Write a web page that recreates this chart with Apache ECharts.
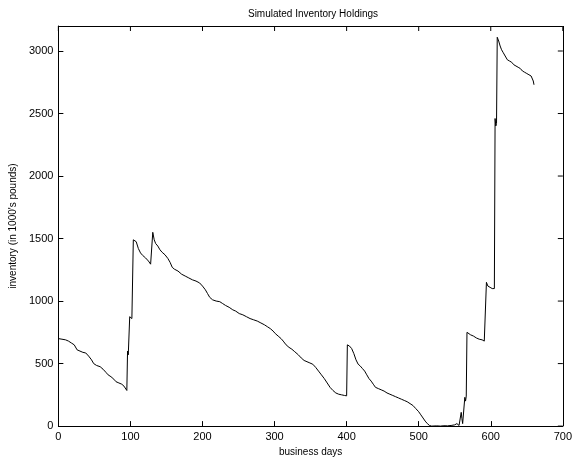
<!DOCTYPE html>
<html>
<head>
<meta charset="utf-8">
<script src="https://cdn.jsdelivr.net/npm/echarts@6/dist/echarts.min.js"></script>
<style>
  html, body { margin: 0; padding: 0; background: #fff; }
  #chart { width: 575px; height: 462px; }
</style>
</head>
<body>
<div id="chart"></div>
<script>
// Business-day index and simulated inventory level (thousands of pounds)
const days = [
  0, 5, 10, 14, 18, 22, 24, 26, 28, 34, 38, 42, 46, 49, 53, 58, 62, 66, 69, 73, 77, 80, 84, 88, 91, 93, 95,
  96, 97, 98, 99, 101, 102, 104, 106, 108, 111, 114, 117, 121, 125, 128, 130,
  131, 133, 135, 138, 141, 144, 148, 152, 155, 158, 161, 166, 171, 176, 181, 186, 191, 196, 200, 204, 207, 210,
  214, 219, 224, 228, 232, 237, 242, 246, 251, 256, 261, 266, 271, 276, 281, 286, 290, 294, 298, 301, 305, 309,
  312, 316, 320, 324, 328, 333, 337, 341, 345, 349, 353, 357, 361, 365, 369, 373, 377, 381, 385, 389, 393, 397, 400,
  401, 404, 407, 410, 413, 416, 419, 422, 425, 428, 431, 434, 437, 440, 444, 448, 452, 456, 460, 464, 468, 472,
  476, 480, 484, 488, 492, 496, 500, 503, 506, 509, 512, 515, 518, 525, 530, 535, 540, 545, 550, 553, 555, 556,
  558, 559, 560, 561, 563, 564, 565, 566, 567, 569, 572, 576, 580, 584, 588, 591, 593,
  594, 596, 599, 602, 605, 606, 607, 608, 609, 611, 613, 615, 617, 620, 623, 626, 629, 632, 635, 638, 641, 644,
  647, 650, 653, 656, 658, 659, 660
];
const inventory = [
  700, 695, 690, 680, 665, 650, 640, 610, 595, 590, 585, 560, 530, 500, 485, 475, 455, 430, 410, 395, 375, 355, 345, 335, 320, 305, 285,
  600, 570, 580, 875, 870, 860, 1490, 1495, 1475, 1420, 1385, 1365, 1345, 1320, 1295, 1280,
  1550, 1490, 1460, 1440, 1410, 1390, 1370, 1340, 1310, 1270, 1255, 1240, 1215, 1200, 1185, 1170, 1160, 1145, 1120, 1090, 1060, 1030,
  1010, 1000, 995, 980, 965, 950, 930, 920, 900, 890, 875, 860, 850, 840, 825, 810, 795, 780, 760, 740, 720, 700,
  680, 650, 630, 615, 595, 570, 545, 525, 515, 505, 495, 470, 440, 410, 380, 345, 310, 285, 265, 255, 250, 245, 242,
  650, 640, 620, 580, 530, 495, 480, 460, 440, 410, 380, 360, 335, 310, 300, 290, 280, 265, 255, 245, 235, 225,
  215, 205, 195, 180, 165, 140, 115, 90, 65, 40, 20, 5, 0, 2, 0, 3, 2, 5, 10, 20, 30, 5,
  15, 110, 60, 20, 20, 230, 200, 240, 750, 745, 730, 720, 705, 695, 690, 680, 680,
  1150, 1120, 1110, 1100, 1100, 2460, 2400, 2420, 3110, 3080, 3040, 3010, 2990, 2960, 2930, 2920, 2910, 2890, 2880, 2870, 2860, 2840,
  2830, 2820, 2810, 2800, 2790, 2760, 2730
];
const xTicks = [0, 100, 200, 300, 400, 500, 600, 700];
const yTicks = [0, 500, 1000, 1500, 2000, 2500, 3000];
const yTop = 3200;
const xEnd = xTicks[xTicks.length - 1];

const font = '"Liberation Sans", Arial, Helvetica, sans-serif';
const points = days.map((d, i) => [d, inventory[i]]);

const lineStyle = { color: '#000', width: 1 };
const tickStyle = { show: true, inside: true, length: 5, lineStyle: { color: '#000', width: 1 } };
const xLabel = v => (xTicks.indexOf(v) >= 0 ? String(v) : '');
const yLabel = v => (yTicks.indexOf(v) >= 0 ? String(v) : '');

// inward tick marks on the top and right edges of the box
const TICK = 5;
function topTick(params, api) {
  const p = api.coord([api.value(0), api.value(1)]);
  return { type: 'line', shape: { x1: p[0], y1: p[1], x2: p[0], y2: p[1] + TICK },
           style: { stroke: '#000', lineWidth: 1 } };
}
function rightTick(params, api) {
  const p = api.coord([api.value(0), api.value(1)]);
  return { type: 'line', shape: { x1: p[0] - TICK, y1: p[1], x2: p[0], y2: p[1] },
           style: { stroke: '#000', lineWidth: 1 } };
}

const chart = echarts.init(document.getElementById('chart'), null, { renderer: 'canvas' });
chart.setOption({
  animation: false,
  backgroundColor: '#fff',
  title: {
    text: 'Simulated Inventory Holdings',
    left: 308, top: 4, textAlign: 'center',
    textStyle: { fontFamily: font, fontSize: 10, fontWeight: 'normal', color: '#000' }
  },
  grid: { left: 44, right: 7, top: 26, bottom: 33 },
  xAxis: {
    type: 'value', min: xTicks[0], max: xEnd, interval: 100,
    name: 'business days', nameLocation: 'middle', nameGap: 20,
    nameTextStyle: { fontFamily: font, fontSize: 10, color: '#000' },
    axisLine: { show: true, lineStyle: lineStyle },
    axisTick: tickStyle,
    axisLabel: { fontFamily: font, fontSize: 11, color: '#000', margin: 5, formatter: xLabel },
    splitLine: { show: false }
  },
  yAxis: {
    type: 'value', min: 0, max: yTop, interval: 500,
    name: "inventory (in 1000's pounds)", nameLocation: 'middle', nameGap: 36,
    nameTextStyle: { fontFamily: font, fontSize: 10, color: '#000' },
    axisLine: { show: true, lineStyle: lineStyle },
    axisTick: tickStyle,
    axisLabel: { fontFamily: font, fontSize: 11, color: '#000', margin: 5, formatter: yLabel },
    splitLine: { show: false }
  },
  series: [
    {
      type: 'line',
      data: points,
      showSymbol: false,
      lineStyle: lineStyle,
      itemStyle: { color: '#000' },
      // top and right edges of the box
      markLine: {
        silent: true,
        symbol: 'none',
        label: { show: false },
        lineStyle: { color: '#000', width: 1, type: 'solid' },
        emphasis: { disabled: true },
        data: [{ yAxis: yTop }, { xAxis: xEnd }]
      }
    },
    {
      type: 'custom',
      renderItem: topTick,
      data: xTicks.map(v => [v, yTop]),
      silent: true,
      clip: false
    },
    {
      type: 'custom',
      renderItem: rightTick,
      data: yTicks.map(v => [xEnd, v]),
      silent: true,
      clip: false
    }
  ]
});
</script>
</body>
</html>
